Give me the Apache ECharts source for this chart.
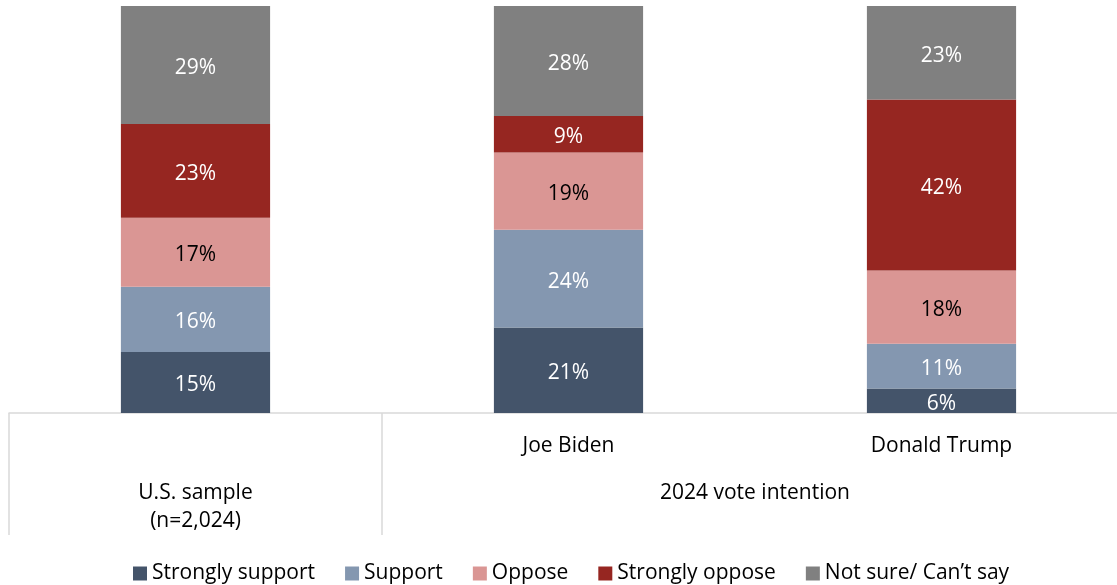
<!DOCTYPE html>
<html>
<head>
<meta charset="utf-8">
<script src="https://cdn.jsdelivr.net/npm/echarts@6/dist/echarts.min.js"></script>
<style>
  html, body { margin: 0; padding: 0; background: #fff; }
  #chart { width: 1117px; height: 585px; }
</style>
</head>
<body>
<div id="chart"></div>
<script>
// Categories and their axis captions
const categories = ['U.S. sample', 'Joe Biden', 'Donald Trump'];
const categoryCaptions = ['U.S. sample\n(n=2,024)', 'Joe Biden', 'Donald Trump'];
const groupCaption = '2024 vote intention';

// Series names (legend order, bottom to top of each stack)
const seriesNames = ['Strongly support', 'Support', 'Oppose', 'Strongly oppose', 'Not sure/ Can\u2019t say'];

// Percentages per category
const stronglySupport = [15, 21, 6];
const support = [16, 24, 11];
const oppose = [17, 19, 18];
const stronglyOppose = [23, 9, 42];
const notSure = [29, 28, 23];

const seriesValues = [stronglySupport, support, oppose, stronglyOppose, notSure];
const seriesColors = ['#44546A', '#8497B0', '#DA9694', '#962621', '#808080'];
const labelColors = ['#ffffff', '#ffffff', '#000000', '#ffffff', '#ffffff'];

const FONT = '"Open Sans"';
const FS = 21;
const chart = echarts.init(document.getElementById('chart'));

const option = {
  animation: false,
  textStyle: { fontFamily: FONT },
  grid: {
    left: 9, width: 1119, top: 6, bottom: 172,
    containLabel: false,
    outerBoundsMode: 'none'
  },
  legend: {
    left: 128,
    top: 558,
    icon: 'rect',
    itemWidth: 14,
    itemHeight: 14,
    itemGap: 30,
    textStyle: { fontFamily: FONT, fontSize: FS, color: '#000' },
    data: seriesNames
  },
  xAxis: {
    type: 'category',
    data: categories,
    axisLine: { show: true, lineStyle: { color: '#D9D9D9', width: 1.5 } },
    axisTick: { show: false },
    axisLabel: {
      margin: 21,
      fontFamily: FONT,
      fontSize: FS,
      lineHeight: 24,
      color: '#000',
      interval: 0,
      formatter: function (value, idx) {
        const caption = categoryCaptions[idx];
        if (caption.indexOf('\n') >= 0) {
          const lines = caption.split('\n').map(l => '{t|' + l + '}').join('\n');
          return '{gap| }\n' + lines;
        }
        return caption;
      },
      rich: {
        gap: { lineHeight: 45, fontSize: FS },
        t: { lineHeight: 28, fontSize: FS, fontFamily: FONT, color: '#000' }
      }
    }
  },
  yAxis: {
    type: 'value',
    min: 0,
    max: 100,
    show: false,
    splitLine: { show: false }
  },
  series: seriesNames.map((name, i) => ({
    name: name,
    type: 'bar',
    stack: 'total',
    barWidth: '40%',
    clip: true,
    data: seriesValues[i],
    itemStyle: { color: seriesColors[i] },
    label: {
      show: true,
      position: 'inside',
      offset: [0, 3],
      formatter: '{c}%',
      fontFamily: FONT,
      fontSize: FS,
      color: labelColors[i]
    }
  }))
};

chart.setOption(option);

// Separators of the two-level category table and the group caption
function drawTable() {
  const centers = categories.map(c => chart.convertToPixel({ xAxisIndex: 0 }, c));
  const band = centers[1] - centers[0];
  const axisY = chart.convertToPixel({ yAxisIndex: 0 }, 0);
  const bottomY = 535;
  const lineStyle = { stroke: '#D9D9D9', lineWidth: 1.5 };
  const xs = [centers[0] - band / 2, centers[1] - band / 2, centers[2] + band / 2];
  const elements = xs.map(x => ({
    type: 'line',
    shape: { x1: x, y1: axisY, x2: x, y2: bottomY },
    style: lineStyle,
    silent: true
  }));
  elements.push({
    type: 'text',
    x: (centers[1] + centers[2]) / 2,
    y: 493,
    style: {
      text: groupCaption,
      fontFamily: FONT,
      fontSize: FS,
      fill: '#000',
      align: 'center',
      verticalAlign: 'middle'
    },
    silent: true
  });
  chart.setOption({ graphic: { elements: elements } });
}
drawTable();
</script>
</body>
</html>
